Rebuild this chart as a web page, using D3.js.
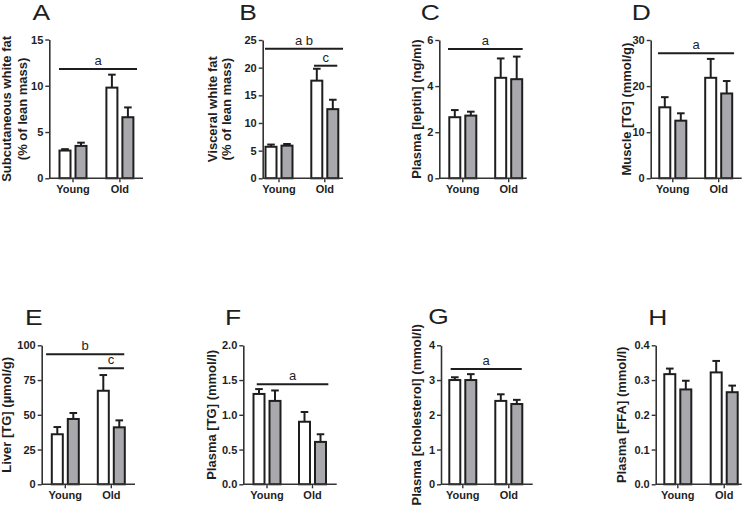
<!DOCTYPE html>
<html><head><meta charset="utf-8">
<script src="https://cdn.jsdelivr.net/npm/d3@7"></script>
<style>body{margin:0;background:#fff} svg{display:block}</style>
</head><body><svg id="c" width="748" height="506"></svg>
<script>
// ---------------- data ----------------
const groups = ["Young", "Old"];
const panelLetters = ["A", "B", "C", "D", "E", "F", "G", "H"];
const yLabels = [
  ["Subcutaneous white fat", "(% of lean mass)"],
  ["Visceral white fat", "(% of lean mass)"],
  ["Plasma [leptin] (ng/ml)"],
  ["Muscle [TG] (mmol/g)"],
  ["Liver [TG] (\u00b5mol/g)"],
  ["Plasma [TG] (mmol/l)"],
  ["Plasma [cholesterol] (mmol/l)"],
  ["Plasma [FFA] (mmol/l)"]
];
const yMax = [15, 25, 6, 30, 100, 2, 4, 0.4];
const yTicks = [
  [0, 5, 10, 15], [0, 5, 10, 15, 20, 25], [0, 2, 4, 6], [0, 10, 20, 30],
  [0, 25, 50, 75, 100], [0, 0.5, 1, 1.5, 2], [0, 1, 2, 3, 4], [0, 0.1, 0.2, 0.3, 0.4]
];
const tickFormats = ["d", "d", "d", "d", "d", ".1f", "d", ".1f"];
// [Young, Old] per panel
const whiteMean = [[3.0, 9.8], [5.7, 17.65], [2.65, 4.36], [15.4, 21.8], [36, 67.3], [1.30, 0.90], [3.0, 2.4], [0.317, 0.322]];
const whiteErr  = [[0.15, 1.4], [0.4, 2.15], [0.31, 0.84], [2.2, 4.1], [5.2, 11.3], [0.07, 0.14], [0.08, 0.19], [0.016, 0.033]];
const grayMean  = [[3.5, 6.6], [5.9, 12.5], [2.72, 4.3], [12.5, 18.4], [47, 41], [1.20, 0.61], [3.0, 2.31], [0.273, 0.265]];
const grayErr   = [[0.35, 1.06], [0.3, 1.7], [0.17, 0.98], [1.6, 2.7], [4.3, 5.0], [0.15, 0.11], [0.17, 0.12], [0.025, 0.019]];
// significance bars: label, value level, start/end in bar-slot units (0..3)
const sigLabels = [["a"], ["a b", "c"], ["a"], ["a"], ["b", "c"], ["a"], ["a"], []];
const sigLevels = [[11.8], [23.4, 20.35], [5.61], [27.1], [93.5, 83.5], [1.44], [3.32], []];
const sigFrom   = [[-0.375], [-0.375, 1.906], [-0.425], [-0.425], [-0.7, 1.83], [-0.14], [-0.26], []];
const sigTo     = [[3.57], [3.64, 3.28], [3.375], [3.46], [3.31, 3.29], [3.49], [3.31], []];

// ---------------- layout ----------------
const layout = [
  {axisX: 49.3,  axisEnd: 143,   top: 39.5,  bottom: 178.3, c: [73, 119.9],    letterX: 32.5,  letterY: 19.5, labelX: [10.5, 26.5]},
  {axisX: 262.7, axisEnd: 343,   top: 40,    bottom: 178.3, c: [279, 324.8],   letterX: 239.3, letterY: 19.5, labelX: [216.5, 231]},
  {axisX: 439.3, axisEnd: 526.7, top: 40,    bottom: 178.3, c: [462.8, 508.7], letterX: 420.7, letterY: 19.5, labelX: [420.7]},
  {axisX: 650.7, axisEnd: 741.7, top: 40,    bottom: 178.3, c: [672.8, 718.7], letterX: 631.7, letterY: 19.5, labelX: [630.7]},
  {axisX: 41.7,  axisEnd: 135,   top: 345.3, bottom: 484.3, c: [65.3, 111.3],  letterX: 25,    letterY: 325,  labelX: [10.7]},
  {axisX: 243.3, axisEnd: 336.7, top: 345.3, bottom: 484.3, c: [267, 312.5],   letterX: 225,   letterY: 325,  labelX: [215.7]},
  {axisX: 441,   axisEnd: 532.7, top: 345.3, bottom: 484.3, c: [462.8, 508.8], letterX: 428.3, letterY: 324,  labelX: [420.7]},
  {axisX: 655.7, axisEnd: 741.7, top: 345.3, bottom: 484.3, c: [677.8, 724.2], letterX: 648.3, letterY: 325,  labelX: [625.7]}
];
const INK = "#1e1e1e";
const GRAY = "#a9a9ad";
const FONT = "'Liberation Sans', Arial, Helvetica, sans-serif";
const barOffset = 8, barW = 11;

const svg = d3.select("#c");

layout.forEach((L, p) => {
  const g = svg.append("g");
  const y = d3.scaleLinear().domain([0, yMax[p]]).range([L.bottom, L.top]);
  const x = d3.scalePoint().domain(groups).range(L.c);
  const slot = d3.scaleLinear().domain([0, 1, 2, 3])
    .range([L.c[0] - barOffset, L.c[0] + barOffset, L.c[1] - barOffset, L.c[1] + barOffset]);

  // panel letter
  g.append("text").attr("transform", `translate(${L.letterX},${L.letterY}) scale(1.2,1)`)
    .attr("font-family", FONT).attr("font-size", 22).attr("fill", INK).text(panelLetters[p]);

  // y label
  const yc = (L.top + L.bottom) / 2;
  yLabels[p].forEach((t, i) => {
    g.append("text").attr("transform", `translate(${L.labelX[i]},${yc}) rotate(-90)`)
      .attr("text-anchor", "middle").attr("font-family", FONT).attr("font-weight", "bold")
      .attr("font-size", 13).attr("fill", INK).text(t);
  });

  // bars
  const bars = [];
  groups.forEach((grp, gi) => {
    bars.push({cx: x(grp) - barOffset, v: whiteMean[p][gi], e: whiteErr[p][gi], fill: "#fff"});
    bars.push({cx: x(grp) + barOffset, v: grayMean[p][gi], e: grayErr[p][gi], fill: GRAY});
  });
  // error bars (behind the bar top)
  bars.forEach(b => {
    g.append("line").attr("x1", b.cx).attr("x2", b.cx).attr("y1", y(b.v)).attr("y2", y(b.v + b.e))
      .attr("stroke", INK).attr("stroke-width", 2);
    g.append("line").attr("x1", b.cx - 3.8).attr("x2", b.cx + 3.8).attr("y1", y(b.v + b.e)).attr("y2", y(b.v + b.e))
      .attr("stroke", INK).attr("stroke-width", 2);
  });
  bars.forEach(b => {
    g.append("rect").attr("x", b.cx - barW / 2).attr("width", barW)
      .attr("y", y(b.v)).attr("height", y(0) - y(b.v))
      .attr("fill", b.fill).attr("stroke", INK).attr("stroke-width", 2);
  });

  // y axis
  const fmt = d3.format(tickFormats[p]);
  const ya = g.append("g").attr("transform", `translate(${L.axisX},0)`)
    .call(d3.axisLeft(y).tickValues(yTicks[p]).tickFormat(fmt).tickSize(4).tickSizeOuter(0).tickPadding(2));
  ya.select(".domain").attr("stroke", "#333").attr("stroke-width", 1.6);
  ya.selectAll(".tick line").attr("stroke", "#333").attr("stroke-width", 1.4);
  ya.selectAll(".tick text").attr("font-family", FONT).attr("font-weight", "bold")
    .attr("font-size", 11).attr("fill", INK);

  // x axis
  const xs = d3.scaleLinear().domain([0, 1]).range([L.axisX, L.axisEnd]);
  g.append("line").attr("x1", xs(0)).attr("x2", xs(1)).attr("y1", L.bottom).attr("y2", L.bottom)
    .attr("stroke", "#333").attr("stroke-width", 1.6);
  groups.forEach(grp => {
    g.append("line").attr("x1", x(grp)).attr("x2", x(grp)).attr("y1", L.bottom).attr("y2", L.bottom + 4)
      .attr("stroke", "#333").attr("stroke-width", 1.4);
    g.append("text").attr("x", x(grp)).attr("y", L.bottom + 15).attr("text-anchor", "middle")
      .attr("font-family", FONT).attr("font-weight", "bold").attr("font-size", 11).attr("fill", INK).text(grp);
  });

  // significance bars
  sigLabels[p].forEach((lab, i) => {
    const yy = y(sigLevels[p][i]);
    const x1 = slot(sigFrom[p][i]), x2 = slot(sigTo[p][i]);
    g.append("line").attr("x1", x1).attr("x2", x2).attr("y1", yy).attr("y2", yy)
      .attr("stroke", INK).attr("stroke-width", 2);
    g.append("text").attr("x", (x1 + x2) / 2).attr("y", yy - 4).attr("text-anchor", "middle")
      .attr("font-family", FONT).attr("font-size", 13).attr("fill", INK).text(lab);
  });
});
</script></body></html>
